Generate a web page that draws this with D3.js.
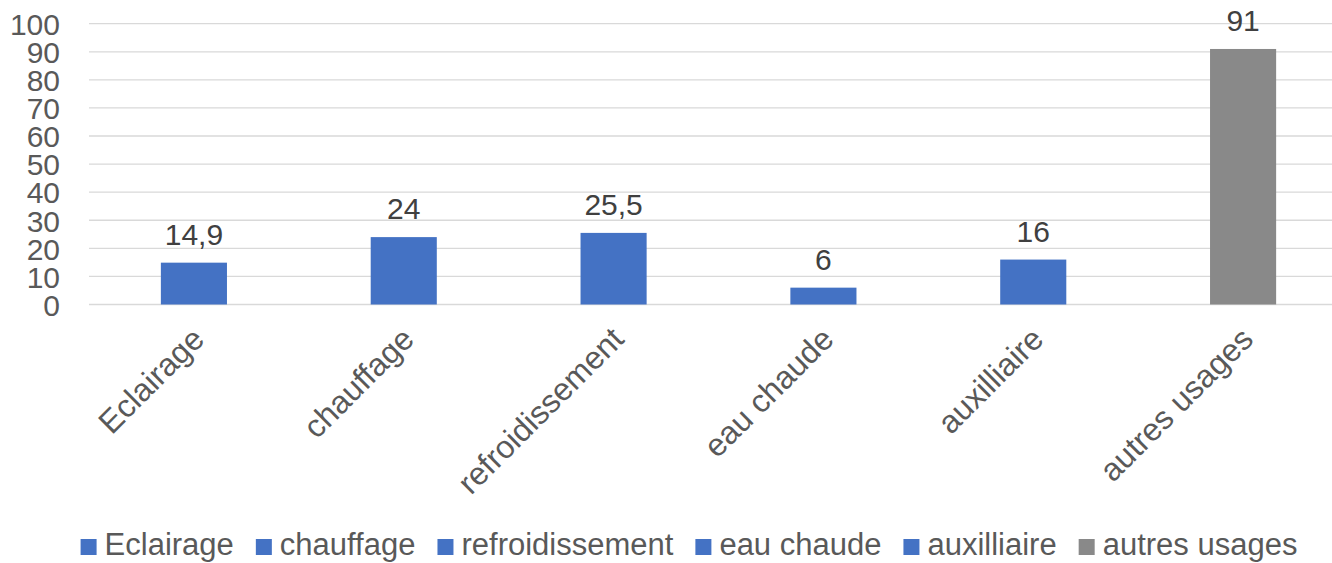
<!DOCTYPE html>
<html>
<head>
<meta charset="utf-8">
<script src="https://cdn.jsdelivr.net/npm/d3@7"></script>
<style>
  html, body { margin: 0; padding: 0; background: #fff; }
  svg { display: block; font-family: "Liberation Sans", Arial, sans-serif; }
</style>
</head>
<body>
<svg id="chart" width="1332" height="563"></svg>
<script>
// Consommation par usage
const categories = ["Eclairage", "chauffage", "refroidissement", "eau chaude", "auxilliaire", "autres usages"];
const values = [14.9, 24, 25.5, 6, 16, 91];
const valueLabels = ["14,9", "24", "25,5", "6", "16", "91"];
const barColors = ["#4472C4", "#4472C4", "#4472C4", "#4472C4", "#4472C4", "#898989"];
const yTicks = [0, 10, 20, 30, 40, 50, 60, 70, 80, 90, 100];

const svg = d3.select("#chart");
const W = 1332, H = 563;

const x = d3.scaleBand()
  .domain(categories)
  .range([89, 1348])
  .paddingInner(0.685)
  .paddingOuter(0.3425);

const y = d3.scaleLinear()
  .domain([0, 100])
  .range([304.5, 23.7]);

// horizontal gridlines
svg.append("g")
  .selectAll("line")
  .data(yTicks)
  .join("line")
  .attr("x1", 89)
  .attr("x2", W)
  .attr("y1", d => y(d))
  .attr("y2", d => y(d))
  .attr("stroke", "#d9d9d9")
  .attr("stroke-width", 1.3);

// y axis labels
const yAxis = d3.axisLeft(y).tickValues(yTicks).tickSize(0).tickPadding(0);
const gy = svg.append("g")
  .attr("transform", "translate(60,0)")
  .call(yAxis);
gy.select(".domain").remove();
gy.selectAll("text")
  .attr("font-size", 30)
  .attr("fill", "#595959")
  .attr("font-family", "Liberation Sans, Arial, sans-serif")
  .attr("dy", "0.36em");

// bars
svg.append("g")
  .selectAll("rect")
  .data(categories)
  .join("rect")
  .attr("x", d => x(d))
  .attr("width", x.bandwidth())
  .attr("y", (d, i) => y(values[i]))
  .attr("height", (d, i) => y(0) - y(values[i]))
  .attr("fill", (d, i) => barColors[i]);

// value labels
svg.append("g")
  .selectAll("text")
  .data(categories)
  .join("text")
  .attr("x", d => x(d) + x.bandwidth() / 2)
  .attr("y", (d, i) => y(values[i]) - 18)
  .attr("text-anchor", "middle")
  .attr("font-size", 30)
  .attr("fill", "#404040")
  .text((d, i) => valueLabels[i]);

// rotated category labels
svg.append("g")
  .selectAll("text")
  .data(categories)
  .join("text")
  .attr("transform", d => `translate(${x(d) + x.bandwidth() / 2 - 4},325) rotate(-45)`)
  .attr("text-anchor", "end")
  .attr("dy", "0.71em")
  .attr("font-size", 32)
  .attr("fill", "#595959")
  .text(d => d);

// legend
const legend = svg.append("g");
const items = legend.selectAll("g")
  .data(categories)
  .join("g");
items.append("rect")
  .attr("width", 16)
  .attr("height", 16)
  .attr("y", 539)
  .attr("fill", (d, i) => barColors[i]);
items.append("text")
  .attr("x", 24)
  .attr("y", 555)
  .attr("font-size", 31)
  .attr("fill", "#595959")
  .text(d => d);

const gap = 22;
const widths = [];
items.each(function () {
  widths.push(24 + d3.select(this).select("text").node().getComputedTextLength());
});
const total = d3.sum(widths) + gap * (widths.length - 1);
let cursor = 689 - total / 2;
items.each(function (d, i) {
  d3.select(this).attr("transform", `translate(${cursor},0)`);
  cursor += widths[i] + gap;
});
</script>
</body>
</html>
